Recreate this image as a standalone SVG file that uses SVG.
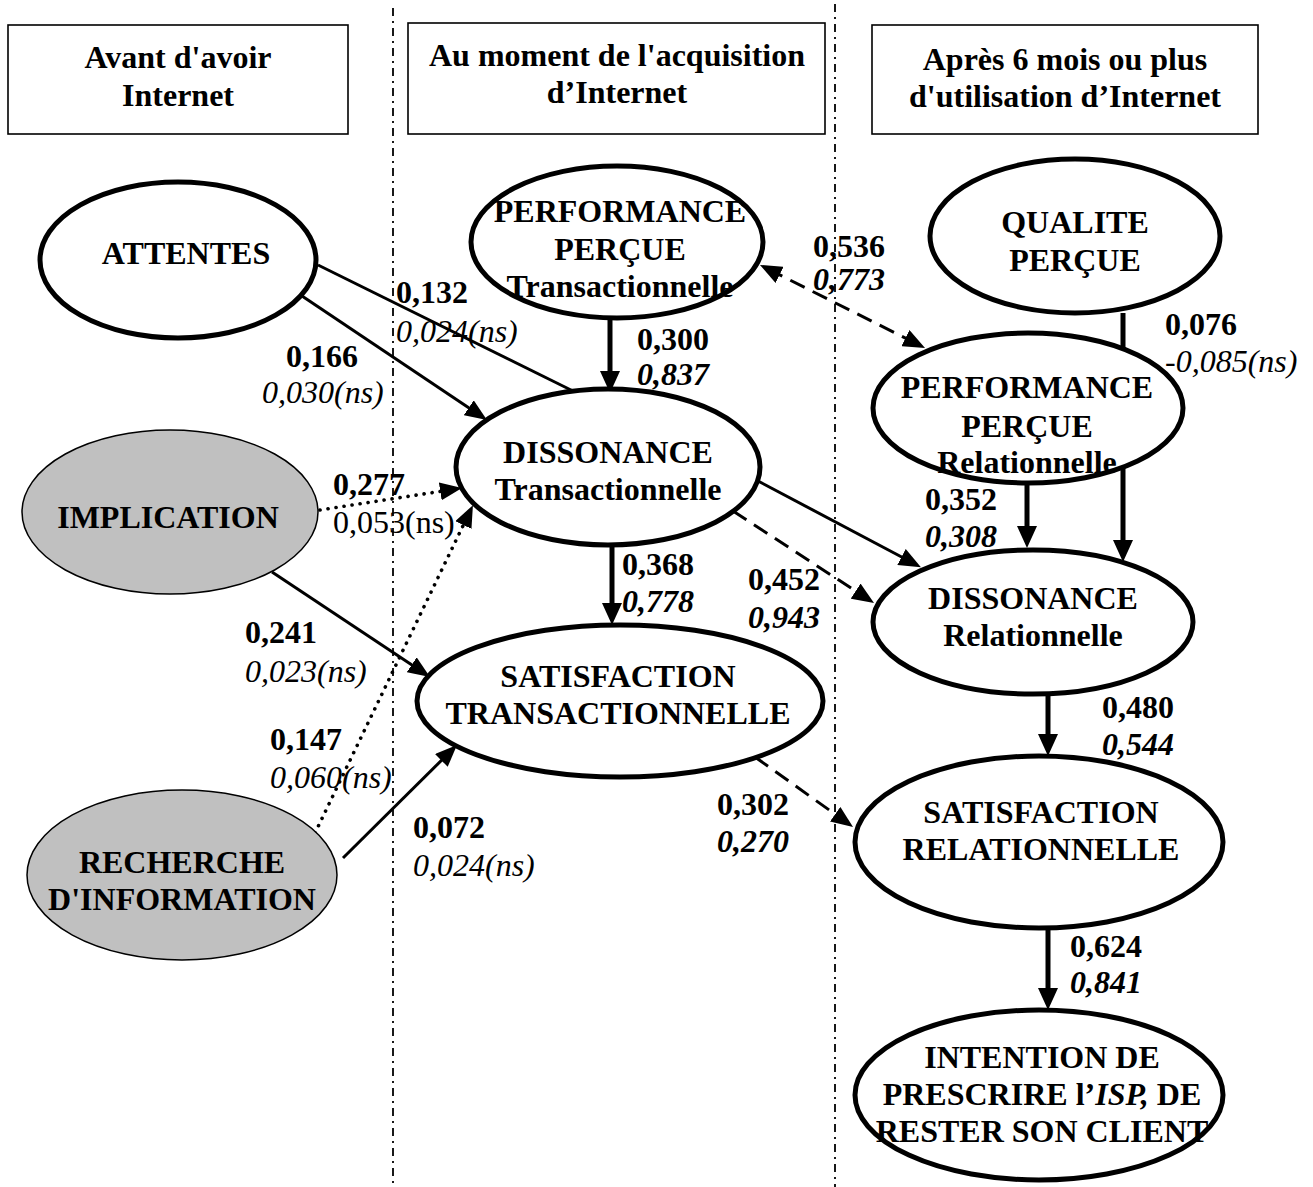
<svg xmlns="http://www.w3.org/2000/svg" width="1313" height="1187" viewBox="0 0 1313 1187">
  <defs>
    <style>
      text { font-family: "Liberation Serif", "Times New Roman", serif; font-size: 32px; fill: #000; }
      .b { font-weight: bold; }
      .i { font-style: italic; }
      .bi { font-weight: bold; font-style: italic; }
      .c { text-anchor: middle; font-weight: bold; }
      .hdr { fill: #fff; stroke: #000; stroke-width: 1.6; }
      .divider { stroke: #000; stroke-width: 1.8; stroke-dasharray: 8 5 2 5; fill: none; }
      .node { fill: #fff; stroke: #000; stroke-width: 5; }
      .grey { fill: #c0c0c0; stroke: #000; stroke-width: 1.5; }
      .thin { stroke: #000; stroke-width: 3; fill: none; }
      .thick { stroke: #000; stroke-width: 5; fill: none; }
      .dash { stroke: #000; stroke-width: 3; stroke-dasharray: 16 9; fill: none; }
      .dot { stroke: #000; stroke-width: 3.6; stroke-dasharray: 0.1 8; stroke-linecap: round; fill: none; }
    </style>
    <marker id="ah" markerUnits="userSpaceOnUse" markerWidth="22" markerHeight="18" refX="13" refY="9" orient="auto-start-reverse">
      <path d="M0,0 L22,9 L0,18 Z" fill="#000"/>
    </marker>
    <marker id="ahk" markerUnits="userSpaceOnUse" markerWidth="22" markerHeight="20" refX="13" refY="10" orient="auto">
      <path d="M0,0 L22,10 L0,20 Z" fill="#000"/>
    </marker>
  </defs>

  <rect width="1313" height="1187" fill="#fff"/>

  <!-- period dividers -->
  <g id="dividers">
    <line class="divider" x1="393" y1="8" x2="393" y2="1187"/>
    <line class="divider" x1="835" y1="4" x2="835" y2="1187"/>
  </g>

  <!-- period headers -->
  <g id="header-avant">
    <rect class="hdr" x="8" y="25" width="340" height="109"/>
    <text class="c" x="178" y="68">Avant d'avoir</text>
    <text class="c" x="178" y="106">Internet</text>
  </g>
  <g id="header-acquisition">
    <rect class="hdr" x="408" y="23" width="417" height="111"/>
    <text class="c" x="617" y="66">Au moment de l'acquisition</text>
    <text class="c" x="617" y="103">d’Internet</text>
  </g>
  <g id="header-apres">
    <rect class="hdr" x="872" y="25" width="386" height="109"/>
    <text class="c" x="1065" y="70">Après 6 mois ou plus</text>
    <text class="c" x="1065" y="107">d'utilisation d’Internet</text>
  </g>

  <!-- paths between constructs -->
  <g id="connectors">
    <line class="thin" x1="318" y1="265" x2="575" y2="392"/>
    <line class="thin" x1="302" y1="296" x2="479.5" y2="415" marker-end="url(#ah)"/>
    <line class="dot" x1="320" y1="510" x2="453.1" y2="489.4" marker-end="url(#ah)"/>
    <line class="thin" x1="272" y1="572" x2="422.5" y2="672" marker-end="url(#ah)"/>
    <line class="dot" x1="315" y1="833" x2="469" y2="513.3" marker-end="url(#ah)"/>
    <line class="thin" x1="343" y1="858" x2="450.6" y2="751.3" marker-end="url(#ah)"/>
    <line class="thick" x1="610" y1="318" x2="610" y2="384" marker-end="url(#ahk)"/>
    <line class="thick" x1="612" y1="545" x2="612" y2="616" marker-end="url(#ahk)"/>
    <line class="dash" x1="768" y1="269" x2="917" y2="344" marker-start="url(#ah)" marker-end="url(#ah)"/>
    <line class="thick" x1="1123" y1="313" x2="1123" y2="553" marker-end="url(#ahk)"/>
    <line class="thick" x1="1027" y1="483" x2="1027" y2="539" marker-end="url(#ahk)"/>
    <line class="thin" x1="758" y1="481" x2="913" y2="563" marker-end="url(#ah)"/>
    <line class="dash" x1="733" y1="511" x2="866.5" y2="598.2" marker-end="url(#ah)"/>
    <line class="thick" x1="1048" y1="694" x2="1048" y2="747" marker-end="url(#ahk)"/>
    <line class="dash" x1="755" y1="757" x2="845.7" y2="821.8" marker-end="url(#ah)"/>
    <line class="thick" x1="1048" y1="928" x2="1048" y2="1001" marker-end="url(#ahk)"/>
  </g>

  <!-- constructs -->
  <g id="attentes">
    <ellipse class="node" cx="178" cy="260" rx="138" ry="78"/>
    <text class="c" x="186" y="264">ATTENTES</text>
  </g>
  <g id="implication">
    <ellipse class="grey" cx="170" cy="512" rx="148" ry="82"/>
    <text class="c" x="168" y="528">IMPLICATION</text>
  </g>
  <g id="recherche">
    <ellipse class="grey" cx="182" cy="875" rx="155" ry="85"/>
    <text class="c" x="182" y="873">RECHERCHE</text>
    <text class="c" x="182" y="910">D'INFORMATION</text>
  </g>
  <g id="performance-transactionnelle">
    <ellipse class="node" cx="617" cy="242" rx="146" ry="76"/>
    <text class="c" x="620" y="222">PERFORMANCE</text>
    <text class="c" x="620" y="260">PERÇUE</text>
    <text class="c" x="620" y="297">Transactionnelle</text>
  </g>
  <g id="dissonance-transactionnelle">
    <ellipse class="node" cx="608" cy="467" rx="152" ry="78"/>
    <text class="c" x="608" y="463">DISSONANCE</text>
    <text class="c" x="608" y="500">Transactionnelle</text>
  </g>
  <g id="satisfaction-transactionnelle">
    <ellipse class="node" cx="620" cy="701" rx="203" ry="76"/>
    <text class="c" x="618" y="687">SATISFACTION</text>
    <text class="c" x="618" y="724">TRANSACTIONNELLE</text>
  </g>
  <g id="qualite-percue">
    <ellipse class="node" cx="1075" cy="236" rx="145" ry="77"/>
    <text class="c" x="1075" y="233">QUALITE</text>
    <text class="c" x="1075" y="271">PERÇUE</text>
  </g>
  <g id="performance-relationnelle">
    <ellipse class="node" cx="1028" cy="408" rx="155" ry="75"/>
    <text class="c" x="1027" y="398">PERFORMANCE</text>
    <text class="c" x="1027" y="437">PERÇUE</text>
    <text class="c" x="1027" y="473">Relationnelle</text>
  </g>
  <g id="dissonance-relationnelle">
    <ellipse class="node" cx="1033" cy="622" rx="160" ry="72"/>
    <text class="c" x="1033" y="609">DISSONANCE</text>
    <text class="c" x="1033" y="646">Relationnelle</text>
  </g>
  <g id="satisfaction-relationnelle">
    <ellipse class="node" cx="1039" cy="842" rx="184" ry="86"/>
    <text class="c" x="1041" y="823">SATISFACTION</text>
    <text class="c" x="1041" y="860">RELATIONNELLE</text>
  </g>
  <g id="intention">
    <ellipse class="node" cx="1039" cy="1095" rx="184" ry="85"/>
    <text class="c" x="1042" y="1068">INTENTION DE</text>
    <text class="c" x="1042" y="1105">PRESCRIRE l’<tspan font-style="italic">ISP,</tspan> DE</text>
    <text class="c" x="1042" y="1142">RESTER SON CLIENT</text>
  </g>

  <!-- path coefficients -->
  <g id="coefficients">
    <text class="b" x="396" y="303">0,132</text>
    <text class="i" x="396" y="342">0,024(ns)</text>
    <text class="b" x="286" y="367">0,166</text>
    <text class="i" x="262" y="403">0,030(ns)</text>
    <text class="b" x="333" y="495">0,277</text>
    <text x="333" y="533">0,053(ns)</text>
    <text class="b" x="245" y="643">0,241</text>
    <text class="i" x="245" y="682">0,023(ns)</text>
    <text class="b" x="270" y="750">0,147</text>
    <text class="i" x="270" y="788">0,060(ns)</text>
    <text class="b" x="413" y="838">0,072</text>
    <text class="i" x="413" y="876">0,024(ns)</text>
    <text class="b" x="637" y="350">0,300</text>
    <text class="bi" x="637" y="385">0,837</text>
    <text class="b" x="813" y="257">0,536</text>
    <text class="bi" x="813" y="290">0,773</text>
    <text class="b" x="1165" y="335">0,076</text>
    <text class="i" x="1165" y="372">-0,085(ns)</text>
    <text class="b" x="925" y="510">0,352</text>
    <text class="bi" x="925" y="547">0,308</text>
    <text class="b" x="622" y="575">0,368</text>
    <text class="bi" x="622" y="612">0,778</text>
    <text class="b" x="748" y="590">0,452</text>
    <text class="bi" x="748" y="628">0,943</text>
    <text class="b" x="717" y="815">0,302</text>
    <text class="bi" x="717" y="852">0,270</text>
    <text class="b" x="1102" y="718">0,480</text>
    <text class="bi" x="1102" y="755">0,544</text>
    <text class="b" x="1070" y="957">0,624</text>
    <text class="bi" x="1070" y="993">0,841</text>
  </g>
</svg>
